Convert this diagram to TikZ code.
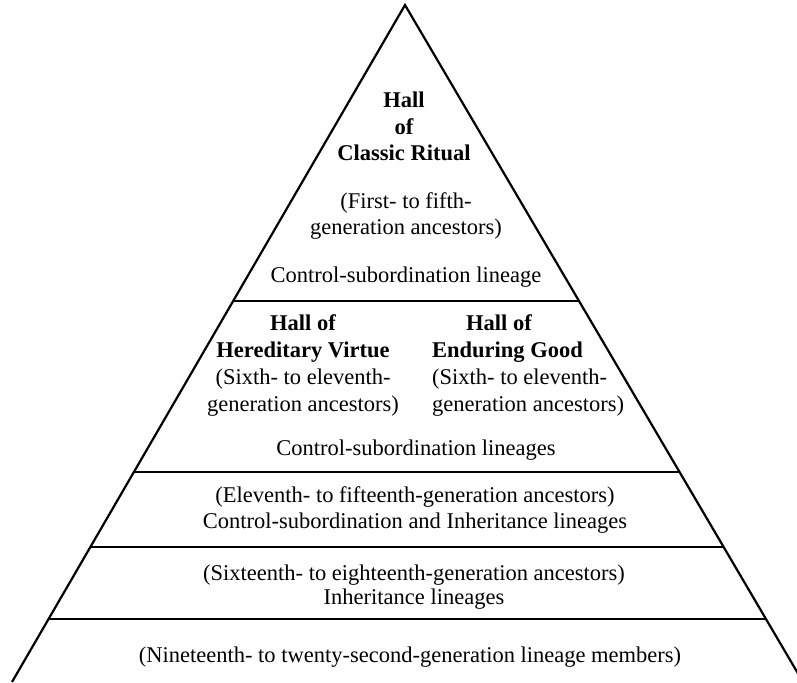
\documentclass[tikz,border=0pt]{standalone}
\usepackage{fontspec}
\setmainfont{Liberation Serif}
\usetikzlibrary{calc}
\begin{document}
\begin{tikzpicture}[x=1pt,y=-1pt,
  txt/.style={font=\fontsize{22.5}{26}\selectfont, inner sep=0pt, anchor=base},
  ttl/.style={txt, font=\fontsize{22.5}{26}\selectfont\bfseries},
  side/.style={line width=2.2pt, line join=miter},
  tier/.style={line width=2.6pt}]
\useasboundingbox (0,0) rectangle (797,682);
\clip (0,0) rectangle (797,682);
\coordinate (apex) at (405,5);
\coordinate (bl) at (12,682);
\coordinate (br) at (803,682);
\draw[side] (bl) -- (apex) -- (br);
\coordinate (l1) at ($(apex)!0.4372!(bl)$);
\coordinate (r1) at ($(apex)!0.4372!(br)$);
\coordinate (l2) at ($(apex)!0.6898!(bl)$);
\coordinate (r2) at ($(apex)!0.6898!(br)$);
\coordinate (l3) at ($(apex)!0.8006!(bl)$);
\coordinate (r3) at ($(apex)!0.8006!(br)$);
\coordinate (l4) at ($(apex)!0.9069!(bl)$);
\coordinate (r4) at ($(apex)!0.9069!(br)$);
\draw[tier] (l1) -- (r1);
\draw[tier] (l2) -- (r2);
\draw[tier] (l3) -- (r3);
\draw[tier] (l4) -- (r4);
% top tier
\node[ttl] (t1) at (404,108) {Hall};
\node[ttl] (t2) at (404,134) {of};
\node[ttl] (t3) at (404,160) {Classic Ritual};
\node[txt] (t4) at (406,208) {(First- to fifth-};
\node[txt] (t5) at (406,234) {generation ancestors)};
\node[txt] (t6) at (406,282) {Control-subordination lineage};
% second tier left
\node[ttl] (a1) at (303,330) {Hall of};
\node[ttl] (a2) at (303,357) {Hereditary Virtue};
\node[txt] (a3) at (303,384) {(Sixth- to eleventh-};
\node[txt] (a4) at (303,411) {generation ancestors)};
% second tier right
\node[ttl] (b1) at (499,330) {Hall of};
\node[ttl, anchor=base west] (b2) at (432,357) {Enduring Good};
\node[txt, anchor=base west] (b3) at (432,384) {(Sixth- to eleventh-};
\node[txt, anchor=base west] (b4) at (432,411) {generation ancestors)};
\node[txt] (c1) at (416,455) {Control-subordination lineages};
% third tier
\node[txt] (d1) at (415,502) {(Eleventh- to fifteenth-generation ancestors)};
\node[txt] (d2) at (415,528) {Control-subordination and Inheritance lineages};
% fourth tier
\node[txt] (e1) at (414,580) {(Sixteenth- to eighteenth-generation ancestors)};
\node[txt] (e2) at (414,604) {Inheritance lineages};
% bottom tier
\node[txt] (f1) at (410,662) {(Nineteenth- to twenty-second-generation lineage members)};
\end{tikzpicture}
\end{document}
